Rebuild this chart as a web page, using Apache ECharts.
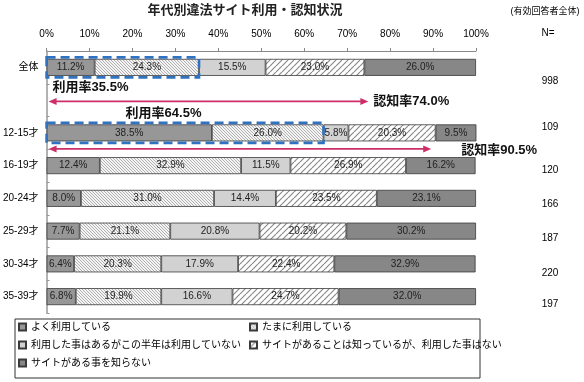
<!DOCTYPE html>
<html><head><meta charset="utf-8">
<script src="https://cdn.jsdelivr.net/npm/echarts@6/dist/echarts.min.js"></script>
<style>html,body{margin:0;padding:0;background:#fff}#c{width:584px;height:382px}</style>
</head><body><div id="c"></div>
<script>
const categories = ['全体', '', '12-15才', '16-19才', '20-24才', '25-29才', '30-34才', '35-39才'];
const often       = [11.2, null, 38.5, 12.4,  8.0,  7.7,  6.4,  6.8];
const sometimes   = [24.3, null, 26.0, 32.9, 31.0, 21.1, 20.3, 19.9];
const usedBefore  = [15.5, null,  5.8, 11.5, 14.4, 20.8, 17.9, 16.6];
const knowNotUsed = [23.0, null, 20.3, 26.9, 23.5, 20.2, 22.4, 24.7];
const notKnow     = [26.0, null,  9.5, 16.2, 23.1, 30.2, 32.9, 32.0];
const sampleN     = ['998', '', '109', '120', '166', '187', '220', '197'];
const seriesNames = ['よく利用している', 'たまに利用している', '利用した事はあるがこの半年は利用していない',
  'サイトがあることは知っているが、利用した事はない', 'サイトがある事を知らない'];
const titleText = '年代別違法サイト利用・認知状況';
const subText = '(有効回答者全体)';
const nHeader = 'N=';

const FONT = '"Liberation Sans","Noto Sans CJK JP",sans-serif';

function makePattern(bg, fg, size, dir, lw) {
  const c = document.createElement('canvas'); c.width = size; c.height = size;
  const g = c.getContext('2d'); g.fillStyle = bg; g.fillRect(0, 0, size, size);
  g.strokeStyle = fg; g.lineWidth = lw; g.beginPath();
  for (let k = -1; k <= 1; k++) {
    if (dir === '/') { g.moveTo(k * size, size); g.lineTo(k * size + size, 0); }
    else { g.moveTo(k * size, 0); g.lineTo(k * size + size, size); }
  }
  g.stroke();
  return { image: c, repeat: 'repeat' };
}
const fineHatch = makePattern('#f4f4f4', '#b0b0b0', 3, '\\', 1);
const wideHatch = makePattern('#ffffff', '#8a8a8a', 6, '/', 1.2);

const seriesData = [often, sometimes, usedBefore, knowNotUsed, notKnow];
const seriesColors = ['#979797', fineHatch, '#d2d2d2', wideHatch, '#878787'];

const chart = echarts.init(document.getElementById('c'), null, { renderer: 'canvas' });
chart.setOption({
  animation: false,
  textStyle: { fontFamily: FONT },
  grid: { left: 45, right: 108, top: 51, bottom: 69 },
  xAxis: {
    type: 'value', position: 'top', min: 0, max: 100, interval: 10,
    axisLine: { show: true, lineStyle: { color: '#888', width: 1 } },
    axisTick: { show: true, length: 3, lineStyle: { color: '#888' } },
    axisLabel: { formatter: '{value}%', fontSize: 10, color: '#000', margin: 12, fontFamily: FONT },
    splitLine: { show: false }
  },
  yAxis: {
    type: 'category', data: categories, inverse: true,
    axisLine: { lineStyle: { color: '#999', width: 1.5 } },
    axisTick: { show: true, inside: true, length: 3, lineStyle: { color: '#999' } },
    axisLabel: { fontSize: 10, color: '#000', margin: 8, fontFamily: FONT }
  },
  legend: [
    { data: [seriesNames[0], seriesNames[2], seriesNames[4]], orient: 'vertical', left: 13, top: 319,
      icon: 'rect', itemWidth: 7, itemHeight: 7, itemGap: 6, padding: [2, 5],
      textStyle: { fontSize: 10, color: '#000', fontFamily: FONT, lineHeight: 12 } },
    { data: [seriesNames[1], seriesNames[3]], orient: 'vertical', left: 244, top: 319,
      icon: 'rect', itemWidth: 7, itemHeight: 7, itemGap: 6, padding: [2, 5],
      textStyle: { fontSize: 10, color: '#000', fontFamily: FONT, lineHeight: 12 } }
  ],
  series: seriesNames.map((name, i) => ({
    name, type: 'bar', stack: 'total', barWidth: 17, data: seriesData[i],
    itemStyle: { color: seriesColors[i], borderColor: '#3a3a3a', borderWidth: 0.8 },
    label: { show: true, position: 'inside', fontSize: 10, color: '#222', fontFamily: FONT,
      formatter: p => (p.value == null ? '' : Number(p.value).toFixed(1) + '%') },
    silent: true
  }))
});

// annotations computed through the chart's scales
const px = (v, ci) => chart.convertToPixel({ xAxisIndex: 0, yAxisIndex: 0 }, [v, categories[ci]]);
const useRate = i => +(often[i] + sometimes[i]).toFixed(1);
const knowRate = i => +(100 - notKnow[i]).toFixed(1);
const PINK = '#cc2f68', BLUE = '#2f72c0';
const g = [];
function txt(text, x, y, font, align, fill) {
  g.push({ type: 'text', silent: true, style: { text, x, y, font, fill: fill || '#111',
    textAlign: align || 'left', textVerticalAlign: 'middle', align: align || 'left', verticalAlign: 'middle' } });
}
function dashedBox(ci, v) {
  const a = px(0, ci), b = px(v, ci);
  g.push({ type: 'rect', silent: true, z: 100,
    shape: { x: a[0], y: a[1] - 10, width: b[0] - a[0], height: 20 },
    style: { fill: 'none', stroke: BLUE, lineWidth: 2.6, lineDash: [9, 5] } });
}
function arrow(x1, x2, y) {
  g.push({ type: 'line', silent: true, z: 100, shape: { x1: x1 + 6, y1: y, x2: x2 - 6, y2: y },
    style: { stroke: PINK, lineWidth: 1.8 } });
  g.push({ type: 'polygon', silent: true, z: 100, shape: { points: [[x1, y], [x1 + 8, y - 3.5], [x1 + 8, y + 3.5]] }, style: { fill: PINK } });
  g.push({ type: 'polygon', silent: true, z: 100, shape: { points: [[x2, y], [x2 - 8, y - 3.5], [x2 - 8, y + 3.5]] }, style: { fill: PINK } });
}
const BOLD = 'bold 13px ' + FONT;
// 全体
{
  const r = px(0, 0), e = px(knowRate(0), 0);
  dashedBox(0, useRate(0));
  txt('利用率' + useRate(0).toFixed(1) + '%', r[0] + 6, r[1] + 20, BOLD);
  arrow(r[0] + 2, e[0] + 4, r[1] + 34);
  txt('認知率' + knowRate(0).toFixed(1) + '%', e[0] + 9, r[1] + 34, BOLD);
}
// 12-15才
{
  const r = px(0, 2), e = px(knowRate(2), 2);
  dashedBox(2, useRate(2));
  txt('利用率' + useRate(2).toFixed(1) + '%', r[0] + 79, r[1] - 19, BOLD);
  arrow(r[0] + 2, e[0] - 4, r[1] + 16);
  txt('認知率' + knowRate(2).toFixed(1) + '%', e[0] + 26, r[1] + 18, BOLD);
}
// title & side texts
txt(titleText, 245, 10, 'bold 13px ' + FONT, 'center', '#222');
txt(subText, 545, 12, '9px ' + FONT, 'center', '#000');
txt(nHeader, 548, 33, '10px ' + FONT, 'center', '#000');
const nOffsets = [14, 0, -6, 5, 6, 7, 9, 8];
sampleN.forEach((n, i) => {
  if (!n) return;
  const p = px(0, i);
  txt(n, 550, p[1] + nOffsets[i], '10px ' + FONT, 'center', '#000');
});
// legend frame
g.push({ type: 'rect', silent: true, shape: { x: 15, y: 319, width: 465, height: 59 },
  style: { fill: 'none', stroke: '#333', lineWidth: 1 } });
chart.setOption({ graphic: g });
</script></body></html>
